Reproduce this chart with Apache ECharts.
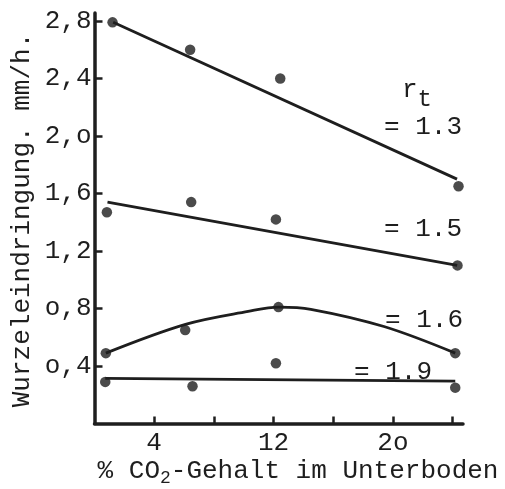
<!DOCTYPE html>
<html>
<head>
<meta charset="utf-8">
<script src="https://cdn.jsdelivr.net/npm/echarts@6/dist/echarts.min.js"></script>
<style>
html,body{margin:0;padding:0;background:#fff;}
#c{width:505px;height:489px;}
</style>
</head>
<body>
<div id="c"></div>
<script>
// ---- data ----
const yTickVals = [0.4, 0.8, 1.2, 1.6, 2.0, 2.4, 2.8];
const yTickText = ['o,4', 'o,8', '1,2', '1,6', '2,o', '2,4', '2,8'];
const xTickVals = [4, 8, 12, 16, 20, 24];
const xLabelVals = [4, 12, 20];
const xLabelText = ['4', '12', '2o'];

const pts13X = [1.21, 6.41, 12.45, 24.40];
const pts13Y = [2.79, 2.60, 2.40, 1.65];
const fit13X = [1.25, 24.30];
const fit13Y = [2.79, 1.70];

const pts15X = [0.83, 6.48, 12.16, 24.33];
const pts15Y = [1.47, 1.54, 1.42, 1.10];
const fit15X = [0.87, 24.31];
const fit15Y = [1.54, 1.10];

const pts16X = [0.76, 6.08, 12.33, 24.18];
const pts16Y = [0.49, 0.65, 0.81, 0.49];
const fit16X = [0.76, 6.10, 10.30, 12.35, 14.50, 19.40, 24.18];
const fit16Y = [0.49, 0.69, 0.78, 0.81, 0.795, 0.675, 0.49];

const pts19X = [0.72, 6.57, 12.16, 24.18];
const pts19Y = [0.29, 0.26, 0.42, 0.25];
const fit19X = [0.72, 24.18];
const fit19Y = [0.315, 0.296];

const rtLabels = ['= 1.3', '= 1.5', '= 1.6', '= 1.9'];
const yTitle = 'Wurzeleindringung. mm/h.';

// ---- build ----
const INK = '#1e1e1e';
const FONT = '"Liberation Mono", "DejaVu Sans Mono", monospace';
const zip = (xs, ys) => xs.map((x, i) => [x, ys[i]]);

function ptsSeries(xs, ys) {
  return {
    type: 'scatter', data: zip(xs, ys), symbol: 'circle', symbolSize: 10.5,
    itemStyle: { color: INK }, silent: true, z: 3
  };
}
function fitSeries(xs, ys, smooth) {
  return {
    type: 'line', data: zip(xs, ys), showSymbol: false, smooth: smooth || false,
    lineStyle: { color: INK, width: 2.8 }, silent: true, z: 2
  };
}

const chart = echarts.init(document.getElementById('c'), null, { renderer: 'canvas' });
chart.setOption({
  backgroundColor: '#ffffff',
  animation: false,
  grid: { left: 94.5, top: 13, width: 368.5, height: 410.6 },
  xAxis: {
    type: 'value', min: 0, max: 24.7,
    axisLine: { show: true, onZero: false, lineStyle: { color: INK, width: 3.5 } },
    axisTick: { show: true, inside: true, length: 7, customValues: xTickVals,
      lineStyle: { color: INK, width: 2.5 } },
    axisLabel: { customValues: xLabelVals, margin: 7, color: INK, fontFamily: FONT, fontSize: 26,
      formatter: v => xLabelText[xLabelVals.indexOf(v)] || '' },
    splitLine: { show: false }
  },
  yAxis: {
    type: 'value', min: 0, max: 2.855,
    axisLine: { show: true, onZero: false, lineStyle: { color: INK, width: 3.5 } },
    axisTick: { show: true, inside: true, length: 8, customValues: yTickVals,
      lineStyle: { color: INK, width: 2.5 } },
    axisLabel: { customValues: yTickVals, margin: 3, color: INK, fontFamily: FONT, fontSize: 26,
      formatter: v => { const i = yTickVals.findIndex(t => Math.abs(t - v) < 1e-6); return i >= 0 ? yTickText[i] : ''; } },
    splitLine: { show: false }
  },
  series: [
    fitSeries(fit13X, fit13Y), ptsSeries(pts13X, pts13Y),
    fitSeries(fit15X, fit15Y), ptsSeries(pts15X, pts15Y),
    fitSeries(fit16X, fit16Y, 0.35), ptsSeries(pts16X, pts16Y),
    fitSeries(fit19X, fit19Y), ptsSeries(pts19X, pts19Y)
  ],
  graphic: [
    { type: 'text', x: 22, y: 220, rotation: Math.PI / 2,
      style: { text: yTitle, font: '26px ' + FONT, fill: INK, align: 'center', verticalAlign: 'middle' } },
    { type: 'text', x: 298, y: 471,
      style: { text: '% CO{s|2}-Gehalt im Unterboden', font: '26px ' + FONT, fill: INK,
        align: 'center', verticalAlign: 'middle',
        rich: { s: { fontFamily: FONT, fontSize: 18, fill: INK, padding: [14, 0, 0, 0] } } } },
    { type: 'text', x: 402, y: 90,
      style: { text: 'r{t|t}', font: '26px ' + FONT, fill: INK, verticalAlign: 'middle',
        rich: { t: { fontFamily: FONT, fontSize: 24, fill: INK, padding: [20, 0, 0, 0] } } } },
    { type: 'text', x: 384, y: 127, style: { text: rtLabels[0], font: '26px ' + FONT, fill: INK, verticalAlign: 'middle' } },
    { type: 'text', x: 384, y: 229, style: { text: rtLabels[1], font: '26px ' + FONT, fill: INK, verticalAlign: 'middle' } },
    { type: 'text', x: 385, y: 320, style: { text: rtLabels[2], font: '26px ' + FONT, fill: INK, verticalAlign: 'middle' } },
    { type: 'text', x: 354, y: 372, style: { text: rtLabels[3], font: '26px ' + FONT, fill: INK, verticalAlign: 'middle' } }
  ]
});
</script>
</body>
</html>
